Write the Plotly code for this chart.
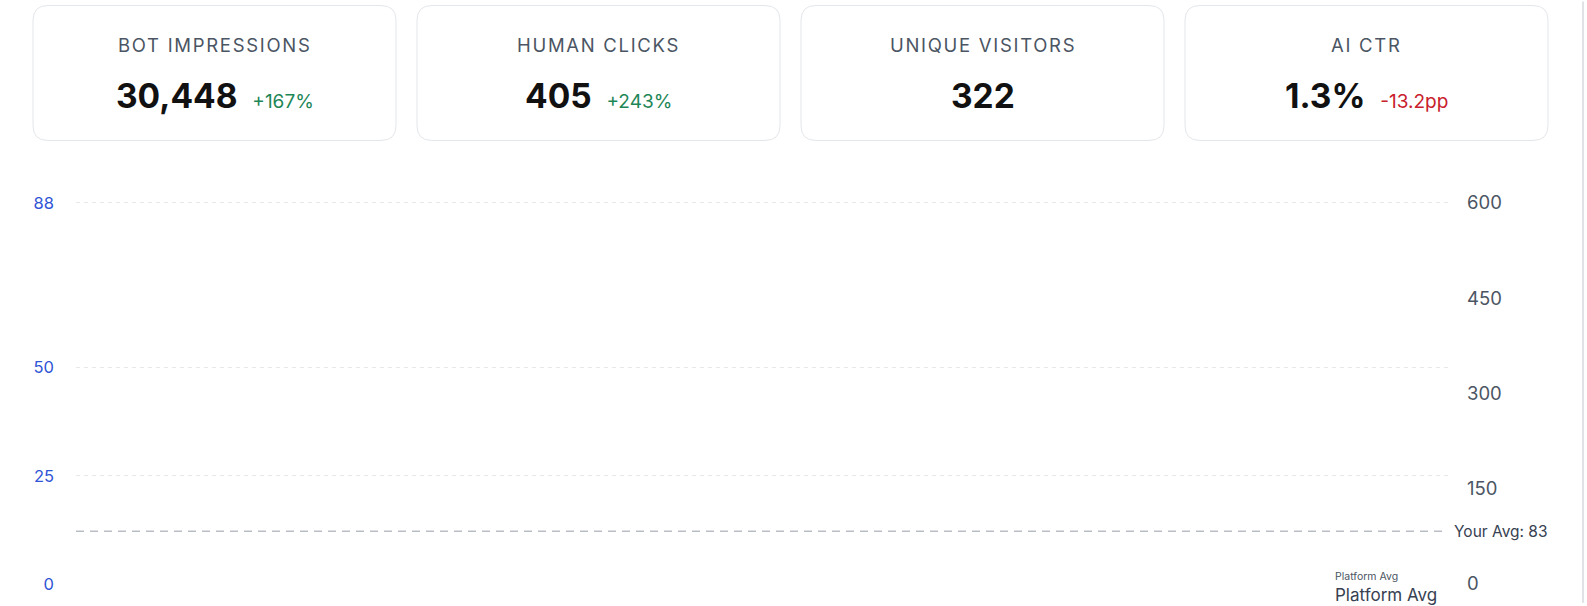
import plotly.graph_objects as go

# ---------------- data ----------------
kpi_titles = ["BOT IMPRESSIONS", "HUMAN CLICKS", "UNIQUE VISITORS", "AI CTR"]
kpi_values = ["30,448", "405", "322", "1.3%"]
kpi_deltas = ["+167%", "+243%", "", "-13.2pp"]
kpi_delta_dir = ["up", "up", "", "down"]

left_tick_vals = [0, 25, 50, 88]
right_tick_vals = [0, 150, 300, 450, 600]
your_avg = 83
platform_avg = 0
series_x = []
series_left = []
series_right = []

# ---------------- geometry (pixels) ----------------
W, H = 1587, 606
PL, PR, PT, PB = 76, 1448, 201, 587
PW, PH = PR - PL, PB - PT
GRID_TOP = 203  # pixel row of the top tick


def px(x):
    return (x - PL) / PW


def py(y):
    return (PB - y) / PH


left_max = left_tick_vals[-1] * (PB - PT) / (PB - GRID_TOP)
right_max = right_tick_vals[-1] * (PB - PT) / (PB - GRID_TOP)

FONT = "Inter"
GREEN = "#1d8656"
RED = "#c8202c"

fig = go.Figure()
fig.add_trace(go.Scatter(x=series_x, y=series_left, yaxis="y", mode="lines",
                         line=dict(color="#2f54d6"), showlegend=False))
fig.add_trace(go.Scatter(x=series_x, y=series_right, yaxis="y2", mode="lines",
                         line=dict(color="#6b7280"), showlegend=False))

shapes = []
annotations = []

# KPI cards
card_w, gap, x0, top, bot, r = 363, 21, 33, 4, 140, 15
for i, (t, v, d, dr) in enumerate(zip(kpi_titles, kpi_values, kpi_deltas, kpi_delta_dir)):
    L = x0 + i * (card_w + gap)
    R = L + card_w

    def P(x, y):
        return f"{px(x):.6f},{py(y):.6f}"
    path = (f"M {P(L + r, top)} L {P(R - r, top)} Q {P(R, top)} {P(R, top + r)} "
            f"L {P(R, bot - r)} Q {P(R, bot)} {P(R - r, bot)} "
            f"L {P(L + r, bot)} Q {P(L, bot)} {P(L, bot - r)} "
            f"L {P(L, top + r)} Q {P(L, top)} {P(L + r, top)} Z")
    shapes.append(dict(type="path", path=path, xref="paper", yref="paper",
                       line=dict(color="#e3e6ea", width=1), fillcolor="white", layer="below"))
    cx = (L + R) / 2
    annotations.append(dict(
        x=px(cx), y=py(44), xref="paper", yref="paper", xanchor="center", yanchor="middle",
        text=f"<span style='letter-spacing:1.7px'>{t}</span>", showarrow=False,
        font=dict(family=FONT, size=18.5, color="#4b5563")))
    txt = f"<b>{v}</b>"
    if d:
        col = GREEN if dr == "up" else RED
        txt += f" <span style='font-size:19px;color:{col}'>\u00a0{d}</span>"
    annotations.append(dict(
        x=px(cx), y=py(95), xref="paper", yref="paper", xanchor="center", yanchor="middle",
        text=txt, showarrow=False,
        font=dict(family=FONT, size=33.5, color="#111111")))

# average line
shapes.append(dict(type="line", xref="paper", x0=0, x1=1, yref="y2", y0=your_avg, y1=your_avg,
                   line=dict(color="#b9bdc6", width=1.5, dash="8px,6px")))
annotations.append(dict(x=1, y=your_avg, xref="paper", yref="y2", xanchor="left", yanchor="middle",
                        xshift=4, text=f"Your Avg: {your_avg}", showarrow=False,
                        font=dict(family=FONT, size=15.5, color="#374151")))
annotations.append(dict(x=px(1333), y=platform_avg, xref="paper", yref="y2", xanchor="left",
                        yanchor="bottom", yshift=-1, text="Platform Avg", showarrow=False,
                        font=dict(family=FONT, size=10.5, color="#4b5563")))
annotations.append(dict(x=px(1333), y=py(598), xref="paper", yref="paper", xanchor="left",
                        yanchor="middle", text="Platform Avg", showarrow=False,
                        font=dict(family=FONT, size=17, color="#374151")))

# page edge line
shapes.append(dict(type="line", xref="paper", yref="paper", x0=px(1583), x1=px(1583),
                   y0=py(606), y1=py(0), line=dict(color="#e0e2e6", width=2)))

fig.update_layout(
    width=W, height=H,
    margin=dict(l=PL, r=W - PR, t=PT, b=H - PB, pad=0),
    paper_bgcolor="white", plot_bgcolor="white",
    showlegend=False,
    xaxis=dict(visible=False, range=[0, 1], fixedrange=True),
    yaxis=dict(range=[0, left_max], tickvals=left_tick_vals,
               ticktext=[str(v) for v in left_tick_vals],
               showgrid=True, gridcolor="#e6e8ec", griddash="4px,4px", gridwidth=1,
               zeroline=True, zerolinecolor="rgba(0,0,0,0)", showline=False, ticks="",
               ticklabelstandoff=21,
               tickfont=dict(family=FONT, size=16.5, color="#2f54d6")),
    yaxis2=dict(range=[0, right_max], tickvals=right_tick_vals, overlaying="y", side="right",
                showgrid=False, zeroline=False, showline=False, ticks="",
                ticklabelstandoff=18,
                tickfont=dict(family=FONT, size=18.5, color="#4b5563")),
    shapes=shapes, annotations=annotations,
)

fig.write_html("out.html", config={"displayModeBar": False},
               post_script="document.body.style.margin='0';")
